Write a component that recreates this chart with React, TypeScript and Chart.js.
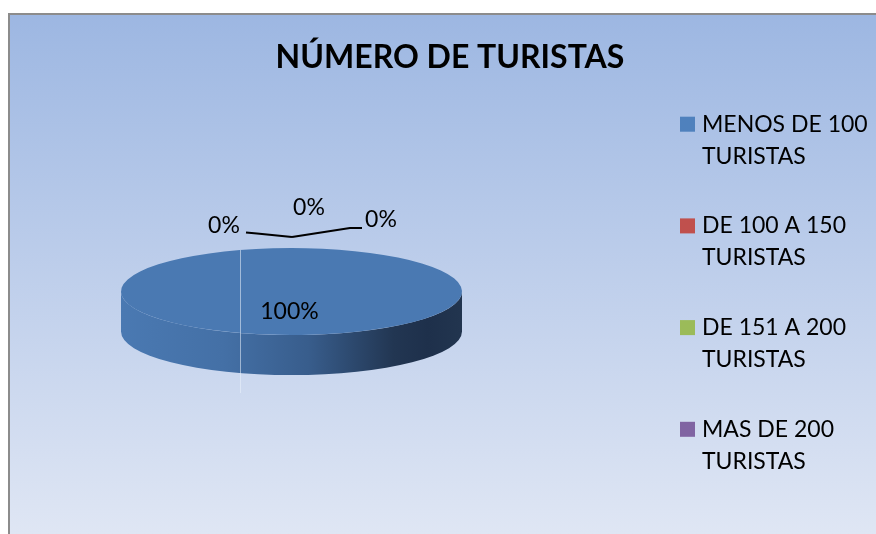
import React, { useEffect, useRef } from "react";
import { Chart, registerables } from "chart.js";

Chart.register(...registerables);

// ---- data ----
const chartTitle = "NÚMERO DE TURISTAS";
const categories = [
  "MENOS DE 100 TURISTAS",
  "DE 100 A 150 TURISTAS",
  "DE 151 A 200 TURISTAS",
  "MAS DE 200 TURISTAS",
];
const tourismShares = [100, 0, 0, 0];
const sliceColors = ["#4a79b2", "#c0504d", "#9bbb59", "#8064a2"];
const legendColors = ["#4f81bd", "#c0504d", "#9bbb59", "#8064a2"];

// ---- layout / style constants ----
const W = 868;
const H = 521;
const FRAME = 2;
const TILT = 43.5 / 170.5;
const DEPTH = 40;
const FONT = "Lato, 'Open Sans', sans-serif";

// label offsets relative to pie top-face centre (style/layout only)
const bigLabelOffset = [-2, 20];
const zeroLabelOffsets = [
  [-67.5, -65.5],
  [17.5, -83.5],
  [89.5, -71.5],
];
const leaderLines = [
  [[-45.5, -59], [-34.5, -58], [0.5, -54.5]],
  [[70.5, -63.5], [58.5, -63.5], [0.5, -54.5]],
];

function visibleRange(s: number, e: number): [number, number] | null {
  const TWO = Math.PI * 2;
  for (const k of [-2, -1, 0, 1, 2]) {
    const lo = Math.max(s, k * TWO);
    const hi = Math.min(e, k * TWO + Math.PI);
    if (hi > lo) return [lo, hi];
  }
  return null;
}

const bgPlugin = {
  id: "bg",
  beforeDraw(chart: any) {
    const ctx = chart.ctx;
    ctx.save();
    const g = ctx.createLinearGradient(0, FRAME, 0, H);
    g.addColorStop(0, "#9db7e2");
    g.addColorStop(1, "#dfe6f4");
    ctx.fillStyle = g;
    ctx.fillRect(FRAME, FRAME, W - FRAME, H - FRAME);
    ctx.fillStyle = "#8c8c8c";
    ctx.fillRect(0, 0, W, FRAME);
    ctx.fillRect(0, 0, FRAME, H);
    ctx.restore();
  },
};

const pie3dPlugin = {
  id: "pie3d",
  beforeDatasetsDraw(chart: any) {
    const ctx = chart.ctx;
    const meta = chart.getDatasetMeta(0);
    const first = meta.data[0];
    const { x, y, outerRadius: r } = first.getProps(["x", "y", "outerRadius"], true);
    const ry = r * TILT;
    meta.data.forEach((arc: any, i: number) => {
      const { startAngle, endAngle } = arc.getProps(["startAngle", "endAngle"], true);
      if (endAngle - startAngle <= 0) return;
      const rng = visibleRange(startAngle, endAngle);
      if (!rng) return;
      const [s, e] = rng;
      const g = ctx.createLinearGradient(x - r, 0, x + r, 0);
      if (i === 0) {
        g.addColorStop(0, "#4a79b2");
        g.addColorStop(0.3, "#4470a6");
        g.addColorStop(0.55, "#385d8c");
        g.addColorStop(0.8, "#223652");
        g.addColorStop(0.9, "#1e304b");
        g.addColorStop(1, "#22354f");
      } else {
        g.addColorStop(0, sliceColors[i]);
        g.addColorStop(1, "#222");
      }
      ctx.save();
      ctx.fillStyle = g;
      ctx.beginPath();
      ctx.ellipse(x, y, r, ry, 0, s, e, false);
      ctx.lineTo(x + r * Math.cos(e), y + ry * Math.sin(e) + DEPTH);
      ctx.ellipse(x, y + DEPTH, r, ry, 0, e, s, true);
      ctx.closePath();
      ctx.fill();
      ctx.restore();
    });
    ctx.save();
    ctx.translate(x, y);
    ctx.scale(1, TILT);
    ctx.translate(-x, -y);
  },
  afterDatasetsDraw(chart: any) {
    const ctx = chart.ctx;
    ctx.restore();
    const meta = chart.getDatasetMeta(0);
    const first = meta.data[0];
    const { x, y, outerRadius: r, startAngle } = first.getProps(
      ["x", "y", "outerRadius", "startAngle"],
      true
    );
    const ry = r * TILT;
    const sx = x + r * Math.cos(startAngle);
    const sy = y + ry * Math.sin(startAngle);
    ctx.save();
    ctx.strokeStyle = "rgba(235,242,252,0.55)";
    ctx.lineWidth = 1;
    ctx.beginPath();
    ctx.moveTo(Math.round(sx) + 0.5, sy);
    ctx.lineTo(Math.round(sx) + 0.5, y + ry + DEPTH + 18);
    ctx.stroke();
    ctx.restore();
  },
  afterDraw(chart: any) {
    const ctx = chart.ctx;
    const meta = chart.getDatasetMeta(0);
    const { x, y } = meta.data[0].getProps(["x", "y"], true);
    const data = chart.data.datasets[0].data as number[];
    const total = data.reduce((a, b) => a + b, 0);
    ctx.save();
    // title
    ctx.fillStyle = "#000";
    ctx.font = `bold 32px ${FONT}`;
    ctx.textAlign = "center";
    ctx.textBaseline = "alphabetic";
    ctx.fillText(chartTitle, 442, 55);
    // leader lines
    ctx.strokeStyle = "#000";
    ctx.lineWidth = 2.2;
    ctx.lineJoin = "round";
    leaderLines.forEach((pts) => {
      ctx.beginPath();
      pts.forEach(([dx, dy], k) => {
        if (k === 0) ctx.moveTo(x + dx, y + dy);
        else ctx.lineTo(x + dx, y + dy);
      });
      ctx.stroke();
    });
    // data labels
    ctx.font = `23px ${FONT}`;
    ctx.textBaseline = "middle";
    let z = 0;
    data.forEach((v) => {
      const txt = `${Math.round((v / total) * 100)}%`;
      const off = v > 0 ? bigLabelOffset : zeroLabelOffsets[z++];
      if (!off) return;
      ctx.fillText(txt, x + off[0], y + off[1]);
    });
    // legend
    ctx.textAlign = "left";
    ctx.textBaseline = "alphabetic";
    ctx.font = `23px ${FONT}`;
    const labels = chart.data.labels as string[];
    labels.forEach((lab, i) => {
      const top = 103.7 + i * 101.7;
      ctx.fillStyle = legendColors[i];
      ctx.fillRect(672, top, 15, 15);
      ctx.fillStyle = "#000";
      const words = lab.split(" ");
      const lines: string[] = [];
      let cur = "";
      words.forEach((w) => {
        const t = cur ? cur + " " + w : w;
        if (ctx.measureText(t).width > 172 && cur) {
          lines.push(cur);
          cur = w;
        } else cur = t;
      });
      if (cur) lines.push(cur);
      lines.forEach((ln, k) => ctx.fillText(ln, 694, top + 15 + k * 32));
    });
    ctx.restore();
  },
};

export default function App() {
  const ref = useRef<HTMLCanvasElement>(null);
  useEffect(() => {
    document.documentElement.style.overflow = "hidden";
    document.body.style.overflow = "hidden";
    document.body.style.margin = "0";
    const chart = new Chart(ref.current!, {
      type: "pie",
      data: {
        labels: categories,
        datasets: [
          {
            data: tourismShares,
            backgroundColor: sliceColors,
            borderWidth: 0,
          },
        ],
      },
      options: {
        responsive: false,
        animation: false,
        rotation: -17.6,
        layout: { padding: { left: 113, right: W - 454, top: 108, bottom: H - 108 - 341 } },
        plugins: {
          legend: { display: false },
          title: { display: false },
          tooltip: { enabled: false },
        },
        events: [],
      },
      plugins: [bgPlugin, pie3dPlugin],
    });
    return () => chart.destroy();
  }, []);
  return (
    <div style={{ paddingLeft: 8, paddingTop: 13, width: W, height: H }}>
      <canvas ref={ref} width={W} height={H} style={{ display: "block", width: W, height: H }} />
    </div>
  );
}
